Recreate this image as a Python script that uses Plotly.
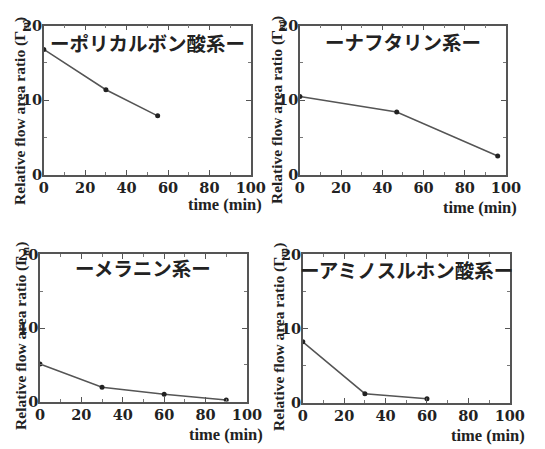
import plotly.graph_objects as go

# the page body keeps an 8px default margin, so the figure is drawn 8px in
OFF = 8
W, H = 545 - OFF, 449 - OFF

# Data
titles = ["ーポリカルボン酸系ー", "ーナフタリン系ー", "ーメラニン系ー", "ーアミノスルホン酸系ー"]
t1 = [0, 30, 55]
r1 = [16.8, 11.4, 7.9]
t2 = [0, 47, 96]
r2 = [10.5, 8.4, 2.5]
t3 = [0, 30, 60, 90]
r3 = [5.1, 1.95, 1.0, 0.2]
t4 = [0, 30, 60]
r4 = [8.2, 1.2, 0.5]
xticks = [0, 20, 40, 60, 80, 100]
yticks = [0, 10, 20]
ytitle = "Relative flow area ratio (Γ<sub>m</sub>)"
xtitle = "time (min)"

series = [(t1, r1), (t2, r2), (t3, r3), (t4, r4)]
# layout in reference-page pixels
boxes = [(40, 255, 17, 172), (306, 520, 17, 172), (36, 251, 255, 408), (309, 524, 255, 409)]
title_y = [35, 33, 269, 271]
ytitle_pos = [(16, 106), (282, 105), (16, 340), (284, 341)]
xtitle_pos = [(269, 203), (534, 206), (270, 442), (542, 443)]


def px(p):
    return (p - OFF) / W


def py(p):
    return 1 - (p - OFF) / H


serif = "Liberation Serif"
tickserif = "DejaVu Serif"
fig = go.Figure()
annotations = []
for i, ((tx, ry), (x0, x1, yt, yb), title) in enumerate(zip(series, boxes, titles)):
    n = "" if i == 0 else str(i + 1)
    fig.add_trace(go.Scatter(
        x=tx, y=ry, mode="lines+markers",
        line=dict(color="#555555", width=1.5),
        marker=dict(color="#222222", size=5),
        xaxis="x" + n, yaxis="y" + n, showlegend=False,
    ))
    axcommon = dict(
        showgrid=False, zeroline=False, showline=True, linecolor="#555555", linewidth=1.5,
        mirror="ticks", ticks="inside", ticklen=5, tickcolor="#555555", tickwidth=1.2,
        tickfont=dict(family=tickserif, size=14.5, color="#222222", weight="bold"),
    )
    fig.update_layout(**{
        "xaxis" + n: dict(domain=[px(x0), px(x1)], range=[0, 100], tickvals=xticks,
                          anchor="y" + n, ticklabelstandoff=-1,
                          minor=dict(ticks="inside", ticklen=3, tickcolor="#777777", tickwidth=1,
                                     tickvals=[10, 30, 50, 70, 90]),
                          **axcommon),
        "yaxis" + n: dict(domain=[py(yb), py(yt)], range=[0, 20], tickvals=yticks,
                          anchor="x" + n, ticklabelstandoff=-3,
                          minor=dict(ticks="inside", ticklen=3, tickcolor="#777777", tickwidth=1,
                                     tickvals=[5, 15]),
                          **axcommon),
    })
    # Japanese title inside plot
    annotations.append(dict(
        text=title, x=px((x0 + x1) / 2), y=py(title_y[i]), xref="paper", yref="paper",
        xanchor="center", yanchor="middle", showarrow=False,
        font=dict(family="Noto Sans CJK JP", size=19.5, color="#222222", weight="bold"),
    ))
    # y title
    annotations.append(dict(
        text=ytitle, x=px(ytitle_pos[i][0]), y=py(ytitle_pos[i][1]), xref="paper", yref="paper",
        xanchor="center", yanchor="middle", textangle=-90, showarrow=False,
        font=dict(family=serif, size=15.5, color="#222222", weight="bold"),
    ))
    # x title
    annotations.append(dict(
        text=xtitle, x=px(xtitle_pos[i][0]), y=py(xtitle_pos[i][1]), xref="paper", yref="paper",
        xanchor="right", yanchor="middle", showarrow=False,
        font=dict(family=serif, size=16.5, color="#222222", weight="bold"),
    ))

fig.update_layout(
    width=W, height=H, margin=dict(l=0, r=0, t=0, b=0),
    paper_bgcolor="white", plot_bgcolor="white",
    font=dict(family=serif, weight="bold"),
    annotations=annotations,
)
fig.write_html("out.html")
